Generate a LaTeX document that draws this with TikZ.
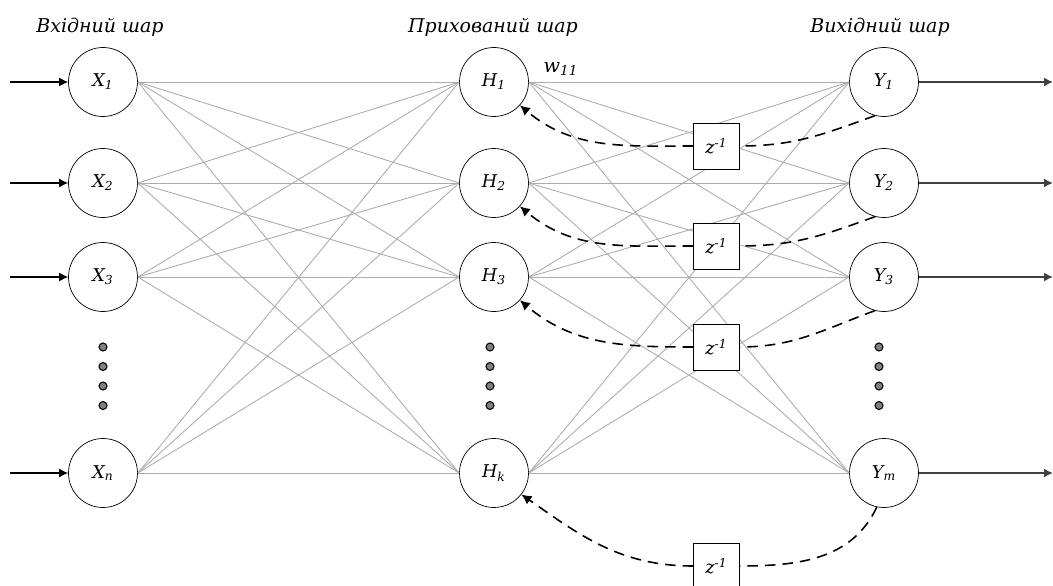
\documentclass[tikz,border=0pt]{standalone}
\usepackage{fontspec}
\setmainfont{DejaVu Serif}
\usetikzlibrary{positioning, arrows.meta}

\tikzset{
    neuron/.style={draw, circle, fill=white, minimum size=1.38cm, inner sep=0pt, font=\itshape\fontsize{10}{12}\selectfont},
    delaybox/.style={draw, fill=white, minimum size=0.92cm, inner sep=0pt, font=\itshape\fontsize{10}{12}\selectfont},
    weight/.style={gray!65, line width=0.5pt},
    feedback/.style={dash pattern=on 6pt off 4pt, line width=0.9pt},
    layername/.style={font=\itshape\fontsize{10.8}{13}\selectfont},
    dotnode/.style={circle, draw, fill=gray, inner sep=0pt, minimum size=0.16cm, line width=0.6pt},
}
\newcommand{\unitlbl}[2]{#1\textsubscript{#2}}

\begin{document}
\begin{tikzpicture}
        \useasboundingbox (0,0) rectangle (21.06,-11.72);
        % layer names
        \node[layername] (inname) at (2.0,-0.54) {Вхідний шар};
        \node[layername] (hidname) at (9.86,-0.54) {Прихований шар};
        \node[layername] (outname) at (17.6,-0.54) {Вихідний шар};
        % neurons
        \foreach \i/\yy in {1/-1.64, 2/-3.66, 3/-5.54, n/-9.46}
            \node[neuron] (x\i) at (2.06,\yy) {\unitlbl{X}{\i}};
        \foreach \i/\yy in {1/-1.64, 2/-3.66, 3/-5.54, k/-9.46}
            \node[neuron] (h\i) at (9.88,\yy) {\unitlbl{H}{\i}};
        \foreach \i/\yy in {1/-1.64, 2/-3.66, 3/-5.54, m/-9.46}
            \node[neuron] (y\i) at (17.68,\yy) {\unitlbl{Y}{\i}};
        % dots
        \foreach \yy [count=\j] in {-6.94, -7.33, -7.72, -8.11} {
            \node[dotnode] (xdot\j) at (2.06,\yy) {};
            \node[dotnode] (hdot\j) at (9.80,\yy) {};
            \node[dotnode] (ydot\j) at (17.58,\yy) {};
        }
        % weights
        \foreach \a in {1,2,3,n}
            \foreach \b in {1,2,3,k}
                \draw[weight] (x\a.east) -- (h\b.west);
        \foreach \a in {1,2,3,k}
            \foreach \b in {1,2,3,m}
                \draw[weight] (h\a.east) -- (y\b.west);
        \node[font=\itshape\fontsize{11}{13}\selectfont] (w11) at (11.22,-1.38) {w\textsubscript{11}};
        % inputs and outputs
        \foreach \i [count=\j] in {1,2,3,n} {
            \coordinate (in\j) at (0.2,0 |- x\i);
            \draw[-{Latex[length=1.8mm,width=1.8mm]}, line width=0.7pt] (in\j) -- (x\i.west);
        }
        \foreach \i [count=\j] in {1,2,3,m} {
            \coordinate (out\j) at (21.06,0 |- y\i);
            \draw[-{Latex[length=1.8mm,width=1.8mm]}, black!75, line width=0.9pt] (y\i.east) -- (out\j);
        }
        % delays
        \foreach \i/\yy in {1/-2.92, 2/-4.92, 3/-6.94, k/-11.32}
            \node[delaybox] (z\i) at (14.33,\yy) {z\textsuperscript{-1}};
        \foreach \y/\h/\z in {y1/h1/z1, y2/h2/z2, y3/h3/z3} {
            \draw[feedback] (\y.255) to[out=200, in=0] (\z.east);
            \draw[feedback, -{Latex[length=2mm,width=2mm]}] (\z.west) to[out=180, in=-40] (\h.-42);
        }
        \draw[feedback] (ym.258) to[out=245, in=0] (zk.east);
        \draw[feedback, -{Latex[length=2mm,width=2mm]}] (zk.west) to[out=180, in=-35] (hk.-38);
\end{tikzpicture}
\end{document}
